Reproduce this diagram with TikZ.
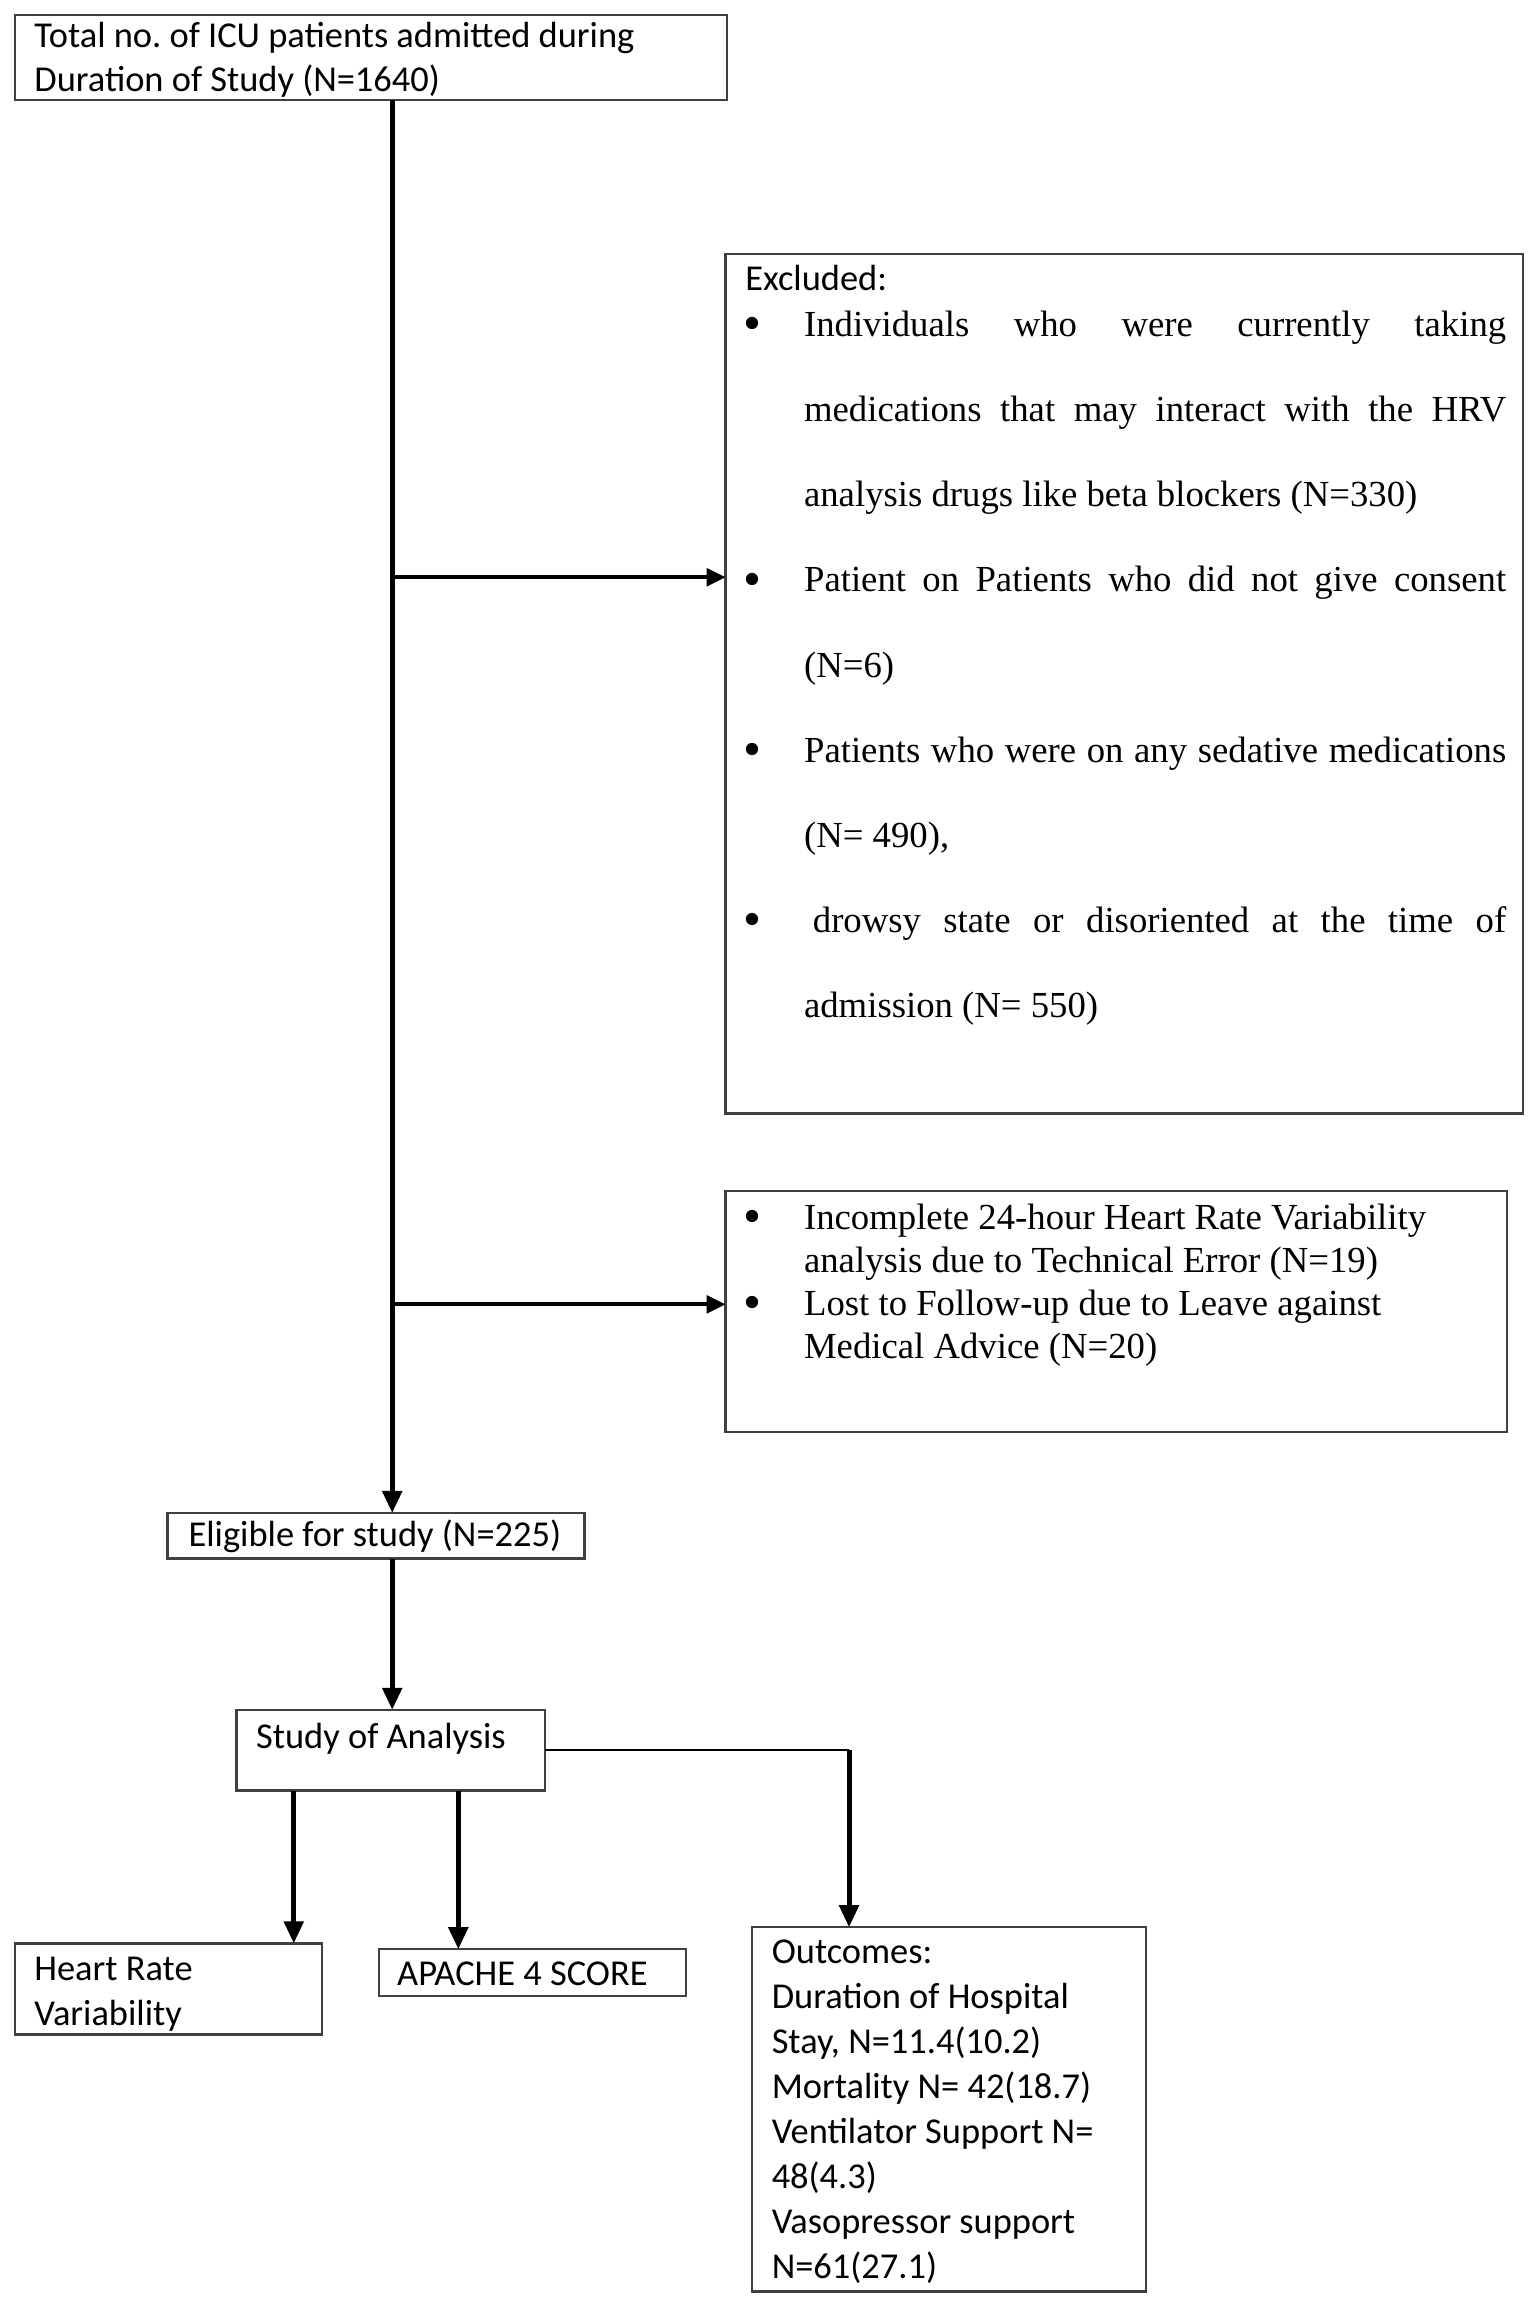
\documentclass[tikz,border=0pt]{standalone}
\usepackage{fontspec}
\setmainfont{Liberation Serif}
\newfontfamily\calfont{Carlito}
\usetikzlibrary{arrows.meta}
\frenchspacing
\newcommand\cfont{\calfont\fontsize{12.4}{15}\selectfont}
\newcommand\bigbullet{\raisebox{-1.4pt}{\scalebox{1.4}{\textbullet}}}
\newcommand\exitem[1]{\par\noindent\hangindent=20pt\hangafter=1\makebox[20pt][l]{\hspace{-0.5pt}\bigbullet}#1\par}
\begin{document}
\begin{tikzpicture}[x=0.5pt,y=-0.5pt,
  box/.style={draw=black!75, line width=0.8pt, inner sep=0pt, outer sep=0pt, anchor=north west},
  txt/.style={inner sep=0pt, anchor=base west},
  arrthick/.style={line width=1.7pt, -{Triangle[length=7.5pt,width=6.5pt]}},
  arrmid/.style={line width=1.3pt, -{Triangle[length=6.5pt,width=6pt]}},
  thinline/.style={line width=0.7pt}]
\useasboundingbox (0,0) rectangle (1045,1569.2);
\fill[white] (0,0) rectangle (1045,1569.2);
% boxes
\node[box, minimum width=242.5pt, minimum height=29pt] (top) at (10,10) {};
\node[box, minimum width=271.5pt, minimum height=292.5pt] (excl) at (494,173) {};
\node[box, minimum width=266pt, minimum height=82pt] (lost) at (494,811) {};
\node[box, minimum width=142pt, minimum height=15.5pt] (elig) at (114,1030) {};
\node[box, minimum width=105pt, minimum height=27.5pt] (study) at (161,1164) {};
\node[box, minimum width=104.5pt, minimum height=31pt] (hr) at (10,1323) {};
\node[box, minimum width=104.5pt, minimum height=16pt] (apache) at (258,1327) {};
\node[box, minimum width=134pt, minimum height=124pt] (outc) at (512,1312) {};
% texts
\node[txt] (toptxt) at (23,32) {\parbox[t]{240pt}{\cfont Total no. of ICU patients admitted during\\Duration of Study (N=1640)}};
\node[txt] (exhead) at (507,198) {\cfont Excluded:};
\node[txt] (exlist) at (507,229) {\parbox[t]{259pt}{\fontsize{12.5}{29}\selectfont\tolerance=10000\hyphenpenalty=10000\emergencystretch=20pt
\exitem{Individuals who were currently taking\linebreak medications that may interact with the HRV\linebreak analysis drugs like beta blockers (N=330)}
\exitem{Patient on Patients who did not give consent\linebreak (N=6)}
\exitem{Patients who were on any sedative medications\linebreak (N=~490),}
\exitem{\hspace{3pt}drowsy state or disoriented at the time of\linebreak admission (N=~550)}}};
\node[txt] (losttxt) at (507,837) {\parbox[t]{259pt}{\fontsize{12.5}{14.65}\selectfont
\exitem{Incomplete 24-hour Heart Rate Variability\\analysis due to Technical Error (N=19)}
\exitem{Lost to Follow-up due to Leave against\\Medical Advice (N=20)}}};
\node[txt] (eligtxt) at (128,1053) {\cfont Eligible for study (N=225)};
\node[txt] (studytxt) at (174,1190) {\cfont Study of Analysis};
\node[txt] (hrtxt) at (23,1348) {\parbox[t]{100pt}{\cfont\setlength\baselineskip{15.5pt}Heart Rate\\Variability}};
\node[txt] (apachetxt) at (270,1352) {\cfont APACHE 4 SCORE};
\node[txt] (outctxt) at (525,1337) {\parbox[t]{140pt}{\cfont\setlength\baselineskip{15.3pt}Outcomes:\\Duration of Hospital\\Stay, N=11.4(10.2)\\Mortality N=~42(18.7)\\Ventilator Support N=\\48(4.3)\\Vasopressor support\\N=61(27.1)}};
% connectors
\coordinate (mx) at (267,0);
\coordinate (j1) at (267,393);
\coordinate (j2) at (267,888);
\coordinate (hx) at (200,0);
\coordinate (ax) at (312,0);
\coordinate (ox) at (578,0);
\draw[arrthick] (top.south -| mx) -- (elig.north -| mx);
\draw[arrmid] (j1) -- (j1 -| excl.west);
\draw[arrmid] (j2) -- (j2 -| lost.west);
\draw[arrthick] (elig.south -| mx) -- (study.north -| mx);
\draw[arrthick] (study.south -| hx) -- (hr.north -| hx);
\draw[arrthick] (study.south -| ax) -- (apache.north -| ax);
\draw[thinline] (study.east) -- (study.east -| ox);
\draw[arrthick] (study.east -| ox) -- (outc.north -| ox);
\end{tikzpicture}
\end{document}
